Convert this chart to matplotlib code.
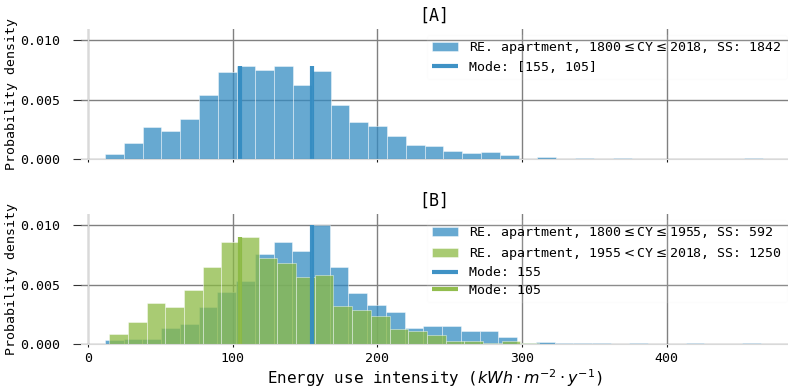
import matplotlib.pyplot as plt
import numpy as np

plt.rcParams['font.family'] = 'DejaVu Sans Mono'

# [A] all apartments, 35 equal bins (density values)
all_edges = np.linspace(11.8, 466.8, 36)
all_density = [0.00045, 0.00138, 0.00272, 0.00239, 0.0034, 0.00534, 0.00733,
               0.00778, 0.0075, 0.00778, 0.0062, 0.00739, 0.00458, 0.00315,
               0.00278, 0.00194, 0.00118, 0.0011, 0.00067, 0.0005, 0.00059,
               0.00034, 0.00004, 0.00017, 0.0, 0.00008, 0.0, 0.00008, 0.0,
               0.0, 0.0, 0.0, 0.0, 0.0, 0.00008]
all_modes = [155, 105]
all_label = 'RE. apartment, 1800$\\leq$CY$\\leq$2018, SS: 1842'

# [B] split by construction year
old_edges = np.linspace(11.8, 465.0, 36)
old_density = [0.00034, 0.00045, 0.00045, 0.00138, 0.00166, 0.00312, 0.00438,
               0.0053, 0.00753, 0.00857, 0.00781, 0.01, 0.00649, 0.00426,
               0.00333, 0.00267, 0.00138, 0.00152, 0.00152, 0.0011, 0.0011,
               0.00059, 0.00011, 0.0002, 0.00013, 0.00013, 0.00013, 0.0,
               0.00013, 0.0, 0.0, 0.00013, 0.0, 0.0, 0.00013]
old_mode = 155
old_label = 'RE. apartment, 1800$\\leq$CY$\\leq$1955, SS: 592'

new_edges = np.linspace(14.7, 466.9, 36)
new_density = [0.00087, 0.00185, 0.00346, 0.00309, 0.00458, 0.00649, 0.00854,
               0.00899, 0.00722, 0.00677, 0.00565, 0.00584, 0.00322, 0.00286,
               0.00235, 0.00129, 0.00109, 0.00076, 0.00025, 0.00025, 0.00011,
               0.00025, 0.0001, 0.00006, 0.0, 0.0, 0.0, 0.0, 0.0, 0.0, 0.0,
               0.0, 0.0, 0.0, 0.0]
new_mode = 105
new_label = 'RE. apartment, 1955$<$CY$\\leq$2018, SS: 1250'

blue = '#348cc2'
green = '#8cba44'


def style_axes(ax, title):
    ax.set_xlim(-4.8, 484)
    ax.set_ylim(0, 0.0109)
    ax.set_yticks([0, 0.005, 0.01])
    ax.set_xticks([0, 100, 200, 300, 400])
    ax.set_axisbelow(True)
    ax.grid(True, color='0.5', lw=1)
    for side in ['left', 'right', 'top']:
        ax.spines[side].set_visible(False)
    ax.spines['bottom'].set_color('0.85')
    ax.axvline(0, color='0.85', lw=1, zorder=0.8)
    ax.tick_params(axis='y', length=5.8, width=0.8, color='0.2', labelsize=9.5, pad=9)
    ax.tick_params(axis='x', length=2, width=0.8, color='0.1', labelsize=9.5)
    ax.set_ylabel('Probability density', fontsize=9.5, labelpad=2)
    ax.set_title(title, fontsize=12, pad=6)


def draw_hist(ax, edges, density, color):
    _, _, bars = ax.hist(edges[:-1], bins=edges, weights=density, color=color,
                         alpha=0.75, ec='white', lw=0.4)
    return bars


def draw_mode(ax, mode, density, color, label):
    return ax.vlines(mode, 0, max(density), color=color, lw=3, alpha=0.95, label=label)


fig = plt.figure(figsize=(7.88, 3.91), dpi=100)
ax1 = fig.add_axes([0.1028, 0.5926, 0.8972, 0.3332])
ax2 = fig.add_axes([0.1028, 0.1194, 0.8972, 0.3332])

style_axes(ax1, '[A]')
h1 = draw_hist(ax1, all_edges, all_density, blue)
m1 = draw_mode(ax1, all_modes, all_density, blue, 'Mode: [155, 105]')
ax1.tick_params(labelbottom=False)
ax1.legend([h1, m1], [all_label, 'Mode: [155, 105]'], loc='upper left',
           bbox_to_anchor=(0.489, 0.955), borderaxespad=0, fontsize=9.5,
           labelspacing=0.35, framealpha=0.1, edgecolor='0.92')

style_axes(ax2, '[B]')
h2 = draw_hist(ax2, old_edges, old_density, blue)
h3 = draw_hist(ax2, new_edges, new_density, green)
m2 = draw_mode(ax2, old_mode, old_density, blue, 'Mode: 155')
m3 = draw_mode(ax2, new_mode, new_density, green, 'Mode: 105')
ax2.legend([h2, h3, m2, m3], [old_label, new_label, 'Mode: 155', 'Mode: 105'],
           loc='upper left', bbox_to_anchor=(0.489, 0.955), borderaxespad=0,
           fontsize=9.5, labelspacing=0.35, framealpha=0.1, edgecolor='0.92')
ax2.set_xlabel('Energy use intensity ($kWh \\cdot m^{-2} \\cdot y^{-1}$)',
               fontsize=11.4, labelpad=2)

plt.savefig('out.png', dpi=100)
